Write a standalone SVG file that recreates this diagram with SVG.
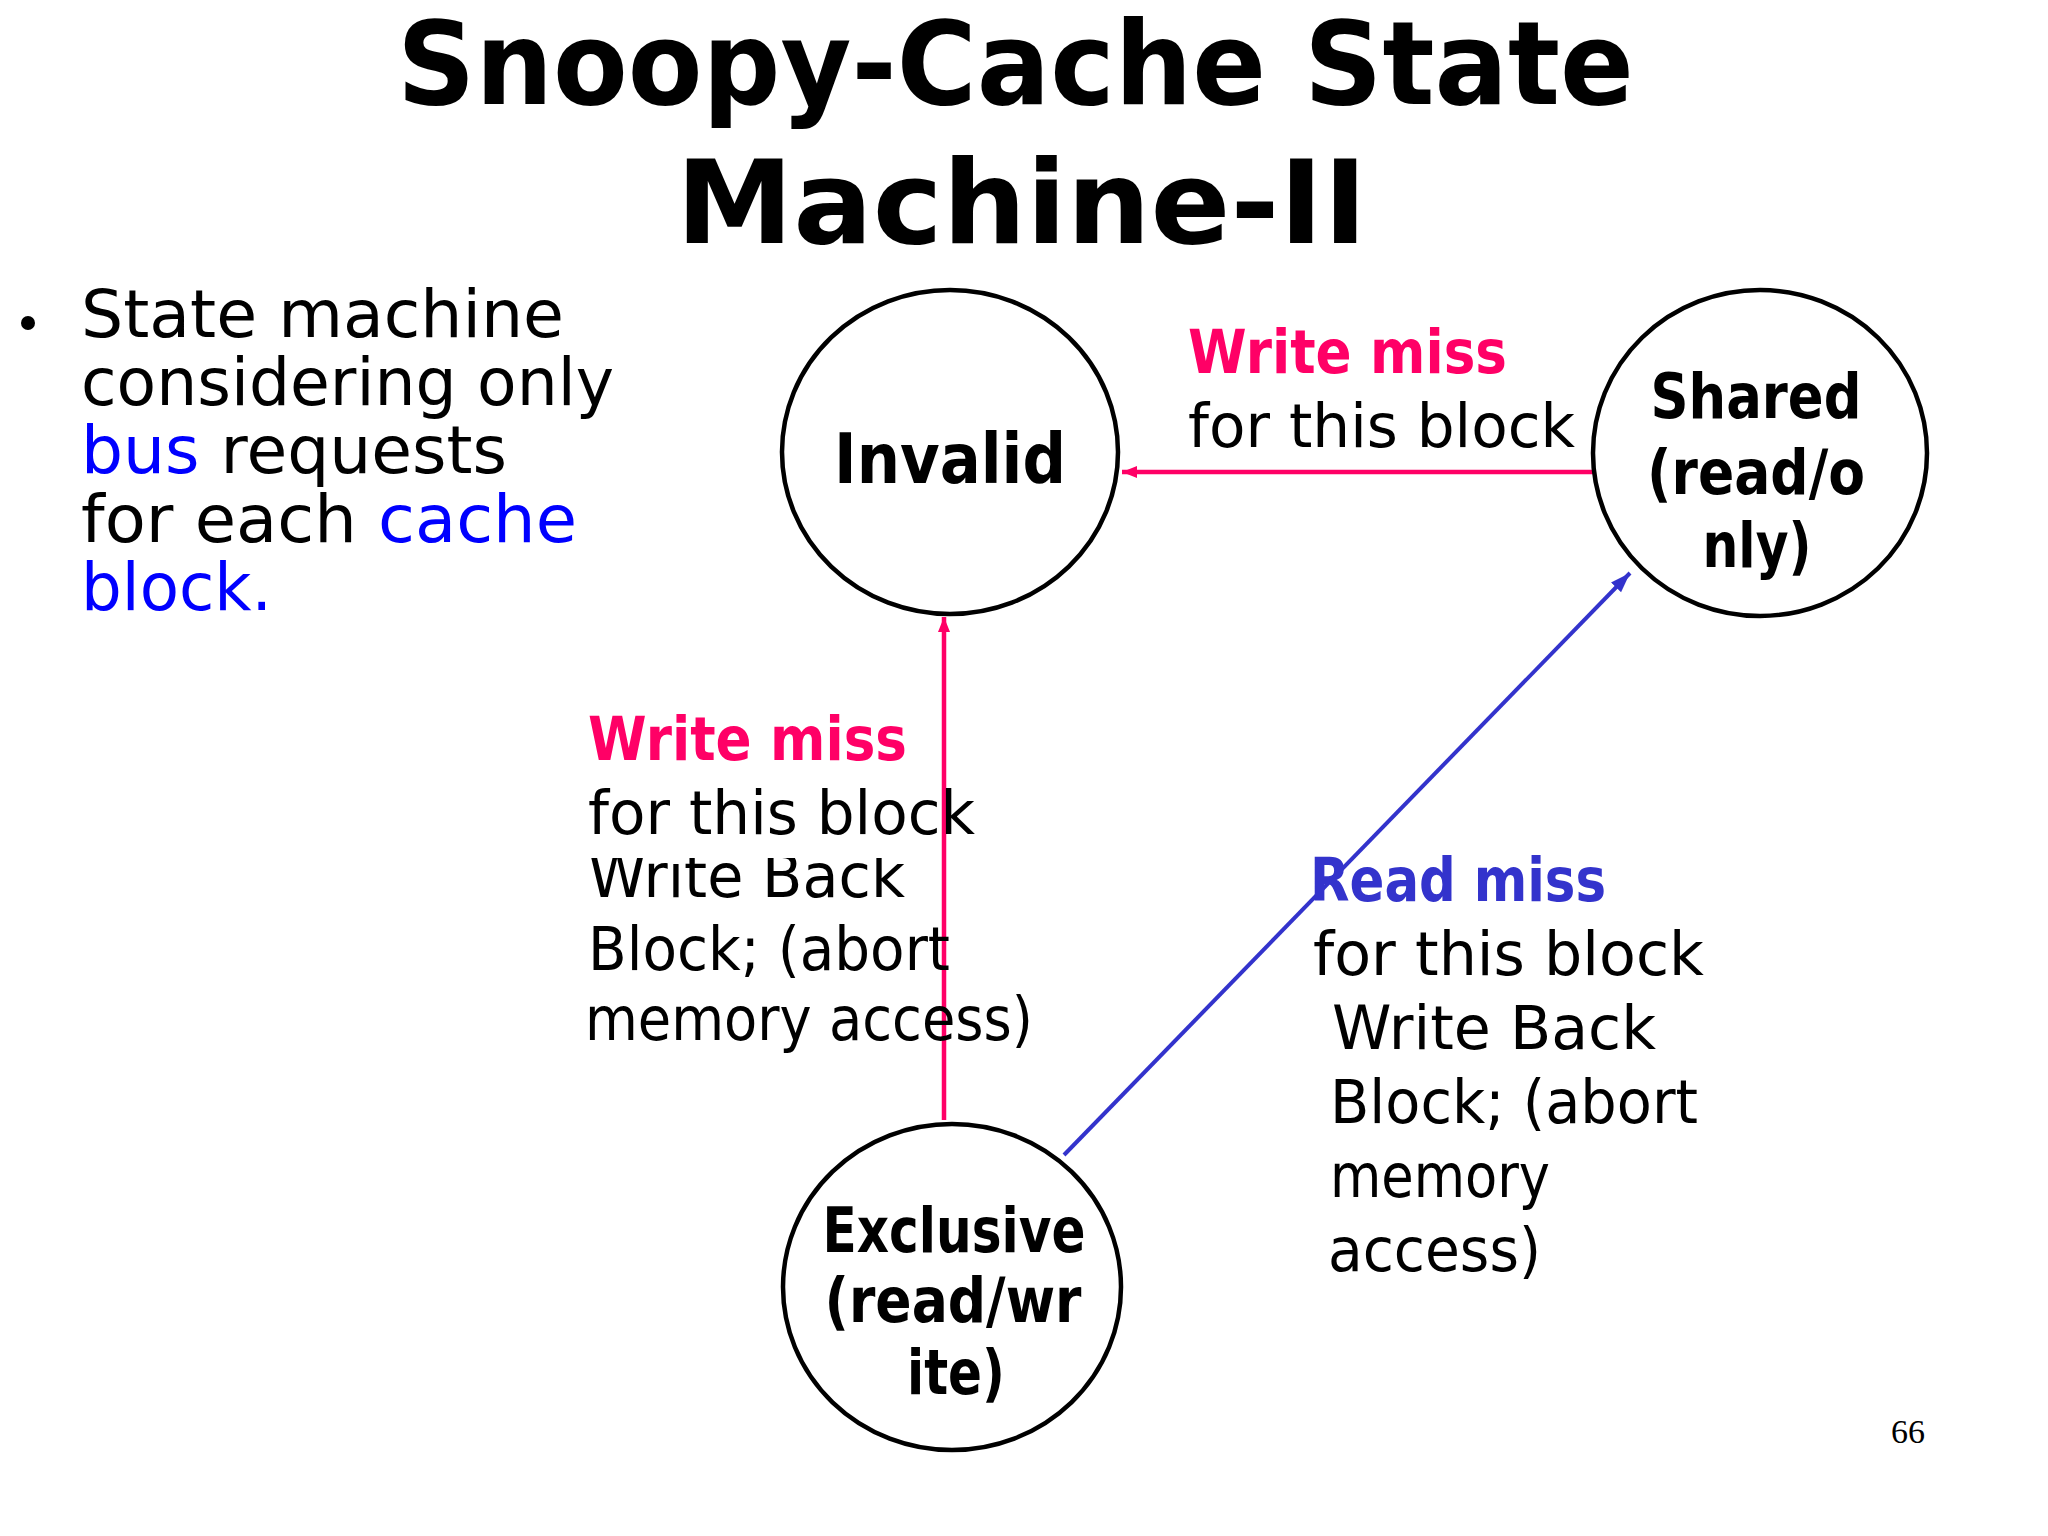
<svg xmlns="http://www.w3.org/2000/svg" width="2048" height="1536" viewBox="0 0 2048 1536">
<style>
.title{font-family:"DejaVu Sans","Liberation Sans",sans-serif;font-weight:bold;font-size:116px;fill:#000}
.body{font-family:"DejaVu Sans","Liberation Sans",sans-serif;font-size:66px;fill:#000}
.blue{fill:#0000FF}
.node{fill:#fff;stroke:#000;stroke-width:4.5}
.nlabel{font-family:"DejaVu Sans","Liberation Sans",sans-serif;font-weight:bold;fill:#000;text-anchor:middle}
.lab{font-family:"DejaVu Sans","Liberation Sans",sans-serif;font-size:60px;fill:#000}
.labb{font-family:"DejaVu Sans","Liberation Sans",sans-serif;font-size:60px;font-weight:bold}
.pink{stroke:#FF0066;stroke-width:4.5;fill:none}
.bline{stroke:#3333CC;stroke-width:4;fill:none}
</style>
<defs>
<marker id="apink" markerUnits="userSpaceOnUse" markerWidth="16" markerHeight="14" refX="15" refY="6" orient="auto">
<path d="M0,0 L15,6 L0,12 z" fill="#FF0066"/>
</marker>
<marker id="ablue" markerUnits="userSpaceOnUse" markerWidth="22" markerHeight="16" refX="20" refY="7" orient="auto">
<path d="M0,0 L20,7 L0,14 z" fill="#3333CC"/>
</marker>
<clipPath id="clipWB"><rect x="570" y="858" width="450" height="60"/></clipPath>
</defs>
<rect width="2048" height="1536" fill="#fff"/>

<g id="title">
<text class="title" x="397" y="104" textLength="1237" lengthAdjust="spacingAndGlyphs">Snoopy-Cache State</text>
<text class="title" x="676" y="243" textLength="691" lengthAdjust="spacingAndGlyphs">Machine-II</text>
</g>

<g id="bullet">
<circle cx="28" cy="323" r="7" fill="#000"/>
<text class="body" x="81" y="337" textLength="483" lengthAdjust="spacingAndGlyphs">State machine</text>
<text class="body" x="81" y="405" textLength="533" lengthAdjust="spacingAndGlyphs">considering only</text>
<text class="body" x="81" y="473" textLength="426" lengthAdjust="spacingAndGlyphs"><tspan class="blue">bus</tspan> requests</text>
<text class="body" x="81" y="542" textLength="496" lengthAdjust="spacingAndGlyphs">for each <tspan class="blue">cache</tspan></text>
<text class="body blue" x="81" y="610" textLength="191" lengthAdjust="spacingAndGlyphs">block.</text>
</g>

<g id="connectors">
<line class="pink" x1="1597" y1="472" x2="1122" y2="472" marker-end="url(#apink)"/>
<line class="pink" x1="944" y1="1120" x2="944" y2="617" marker-end="url(#apink)"/>
<line class="bline" x1="1064" y1="1155" x2="1630" y2="573" marker-end="url(#ablue)"/>
</g>

<g id="node-invalid">
<ellipse class="node" cx="950" cy="452" rx="168" ry="162"/>
<text class="nlabel" x="950" y="483" font-size="70" textLength="232" lengthAdjust="spacingAndGlyphs">Invalid</text>
</g>

<g id="node-shared">
<ellipse class="node" cx="1760" cy="453" rx="167" ry="163"/>
<text class="nlabel" x="1756" y="418" font-size="62" textLength="211" lengthAdjust="spacingAndGlyphs">Shared</text>
<text class="nlabel" x="1756" y="494" font-size="62" textLength="218" lengthAdjust="spacingAndGlyphs">(read/o</text>
<text class="nlabel" x="1757" y="567" font-size="62" textLength="109" lengthAdjust="spacingAndGlyphs">nly)</text>
</g>

<g id="node-exclusive">
<ellipse class="node" cx="952" cy="1287" rx="169" ry="163"/>
<text class="nlabel" x="954" y="1252" font-size="62" textLength="263" lengthAdjust="spacingAndGlyphs">Exclusive</text>
<text class="nlabel" x="953" y="1322" font-size="62" textLength="257" lengthAdjust="spacingAndGlyphs">(read/wr</text>
<text class="nlabel" x="956" y="1394" font-size="62" textLength="98" lengthAdjust="spacingAndGlyphs">ite)</text>
</g>

<g id="label-shared-invalid">
<text class="labb" x="1188" y="373" fill="#FF0066" textLength="319" lengthAdjust="spacingAndGlyphs">Write miss</text>
<text class="lab" x="1188" y="447" textLength="387" lengthAdjust="spacingAndGlyphs">for this block</text>
</g>

<g id="label-exclusive-invalid">
<text class="lab" x="588" y="897" textLength="317" lengthAdjust="spacingAndGlyphs" clip-path="url(#clipWB)">Write Back</text>
<text class="labb" x="588" y="760" fill="#FF0066" textLength="319" lengthAdjust="spacingAndGlyphs">Write miss</text>
<text class="lab" x="588" y="834" textLength="387" lengthAdjust="spacingAndGlyphs">for this block</text>
<text class="lab" x="588" y="970" textLength="362" lengthAdjust="spacingAndGlyphs">Block; (abort</text>
<text class="lab" x="585" y="1040" textLength="448" lengthAdjust="spacingAndGlyphs">memory access)</text>
</g>

<g id="label-exclusive-shared">
<text class="labb" x="1310" y="901" fill="#3333CC" textLength="296" lengthAdjust="spacingAndGlyphs">Read miss</text>
<text class="lab" x="1313" y="975" textLength="391" lengthAdjust="spacingAndGlyphs">for this block</text>
<text class="lab" x="1332" y="1049" textLength="324" lengthAdjust="spacingAndGlyphs">Write Back</text>
<text class="lab" x="1330" y="1123" textLength="368" lengthAdjust="spacingAndGlyphs">Block; (abort</text>
<text class="lab" x="1330" y="1197" textLength="220" lengthAdjust="spacingAndGlyphs">memory</text>
<text class="lab" x="1328" y="1271" textLength="213" lengthAdjust="spacingAndGlyphs">access)</text>
</g>

<text x="1891" y="1443" font-family="Liberation Serif, serif" font-size="34" fill="#000">66</text>
</svg>
